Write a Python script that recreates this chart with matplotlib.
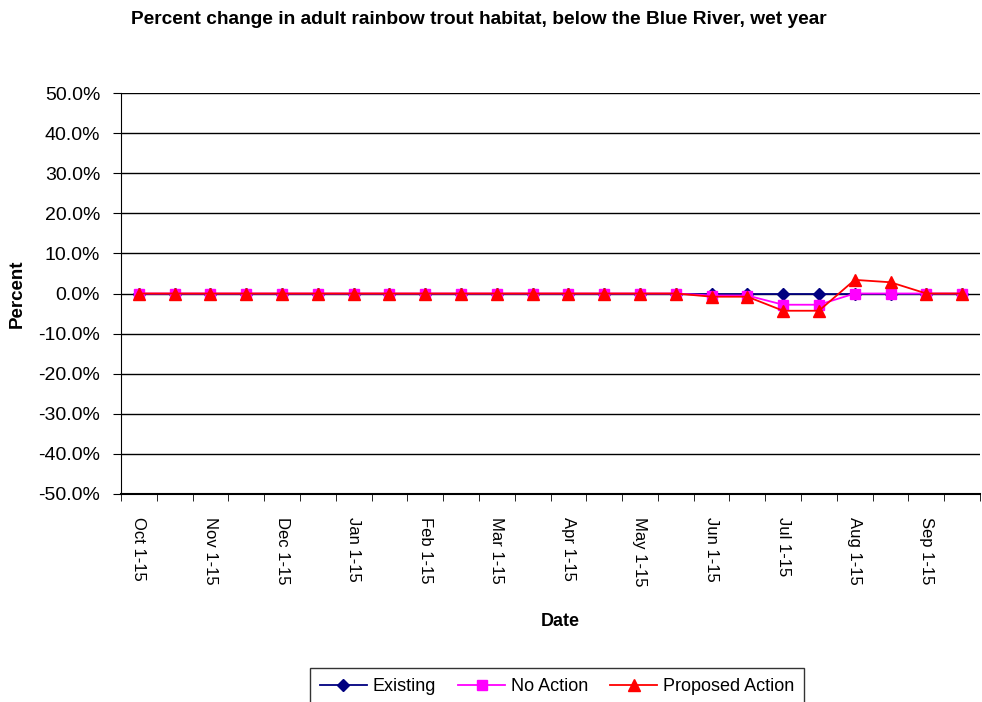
import numpy as np
import matplotlib.pyplot as plt
from matplotlib.ticker import FixedLocator, PercentFormatter

plt.rcParams['font.family'] = ['Liberation Sans', 'DejaVu Sans']
plt.rcParams['axes.unicode_minus'] = False

periods = ["Oct 1-15", "Oct 16-31", "Nov 1-15", "Nov 16-30", "Dec 1-15", "Dec 16-31",
           "Jan 1-15", "Jan 16-31", "Feb 1-15", "Feb 16-28", "Mar 1-15", "Mar 16-31",
           "Apr 1-15", "Apr 16-30", "May 1-15", "May 16-31", "Jun 1-15", "Jun 16-30",
           "Jul 1-15", "Jul 16-31", "Aug 1-15", "Aug 16-31", "Sep 1-15", "Sep 16-30"]
existing = [0.0] * 24
no_action = [0.0] * 16 + [-0.5, -0.5, -2.8, -2.8, 0.0, 0.0, 0.0, 0.0]
proposed = [0.0] * 16 + [-0.8, -0.8, -4.3, -4.3, 3.4, 2.8, 0.0, 0.0]


def make_chart():
    fig = plt.figure(figsize=(9.82, 7.02), dpi=100)
    ax = fig.add_axes([121 / 982, 1 - 494 / 702, (980 - 121) / 982, (494 - 93) / 702])
    x = np.arange(len(periods))

    ax.plot(x, existing, color="#000080", marker="D", markersize=6.5, lw=1.3, label="Existing")
    ax.plot(x, no_action, color="#FF00FF", marker="s", markersize=7.5, lw=1.3, label="No Action")
    ax.plot(x, proposed, color="#FF0000", marker="^", markersize=8.5, lw=1.3, label="Proposed Action")

    ax.set_xlim(-0.5, len(periods) - 0.5)
    ax.set_ylim(-50, 50)
    ax.set_yticks(np.arange(-50, 51, 10))
    ax.yaxis.set_major_formatter(PercentFormatter(decimals=1))
    ax.grid(axis="y", color="black", lw=1)
    ax.set_axisbelow(True)

    # labels on every other period, tick marks between periods
    ax.set_xticks(x[::2])
    ax.set_xticklabels(periods[::2], rotation=270, fontsize=12)
    ax.tick_params(axis="x", which="major", length=0, pad=16.5)
    ax.xaxis.set_minor_locator(FixedLocator(np.arange(-0.5, len(periods), 1)))
    ax.tick_params(axis="x", which="minor", length=5, direction="out", color="black")
    ax.tick_params(axis="y", length=6, labelsize=14, pad=9, color="black")

    for s in ["top", "right"]:
        ax.spines[s].set_visible(False)
    ax.spines["left"].set_color("black")
    ax.spines["bottom"].set_color("black")
    ax.spines["bottom"].set_linewidth(1.5)

    fig.text(479 / 982, 1 - 20 / 702, "Percent change in adult rainbow trout habitat, below the Blue River, wet year",
             ha="center", va="center", fontsize=13.8, fontweight="bold")
    fig.text(17 / 982, 1 - 294 / 702, "Percent", rotation=90, ha="center", va="center",
             fontsize=13.5, fontweight="bold")
    fig.text(560 / 982, 1 - 622 / 702, "Date", ha="center", va="center", fontsize=13, fontweight="bold")

    leg = fig.legend(loc="upper center", bbox_to_anchor=(557 / 982, 1 - 668 / 702), ncol=3, fontsize=13,
                     frameon=True, fancybox=False, edgecolor="black", handlelength=2.6,
                     columnspacing=1.25, handletextpad=0.3, borderpad=0.55, borderaxespad=0)
    leg.get_frame().set_linewidth(1)

    fig.savefig("out.png", dpi=100)


if __name__ == "__main__":
    make_chart()
